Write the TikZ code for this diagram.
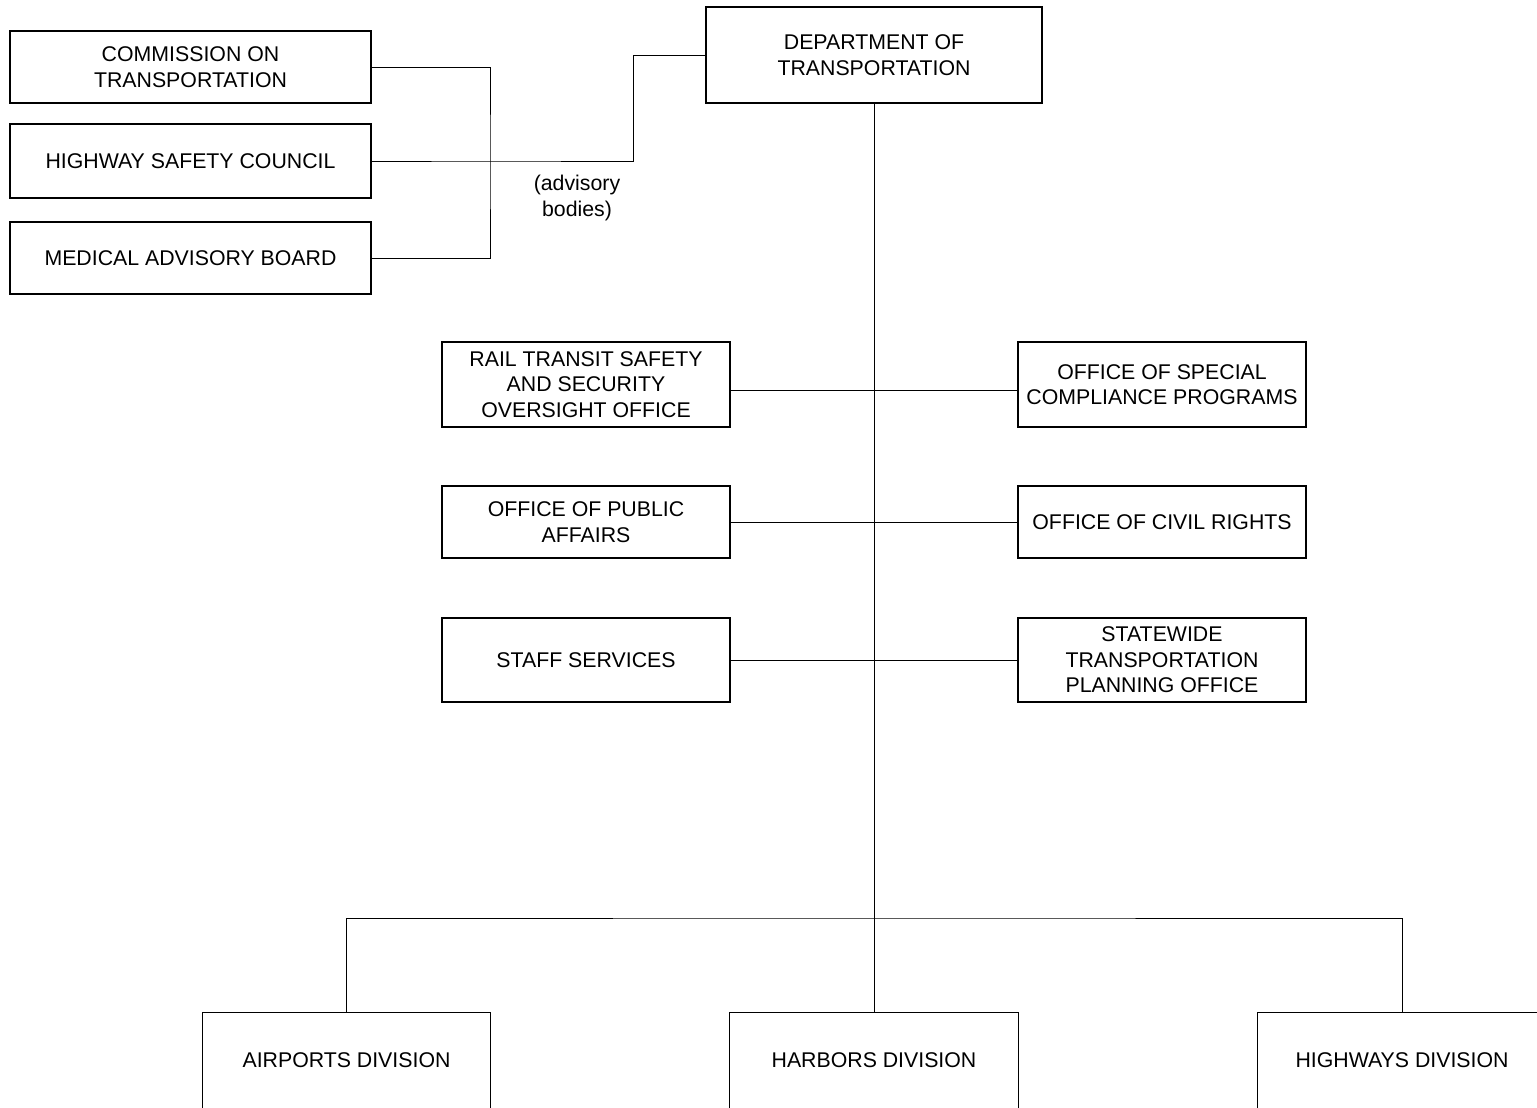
\documentclass[tikz,border=0pt]{standalone}
\usepackage{fontspec}
\setmainfont{Liberation Sans}
\begin{document}
\begin{tikzpicture}[x=1pt,y=-1pt,
  box/.style={draw,line width=1.3pt,rectangle,inner sep=0pt,align=center,
    font=\fontsize{21.3}{25.6}\selectfont},
  divbox/.style={rectangle,inner sep=0pt,align=center,minimum width=288pt,minimum height=94pt,
    font=\fontsize{21.3}{25.6}\selectfont},
  conn/.style={line width=0.9pt},
  lbl/.style={align=center,inner sep=0pt,font=\fontsize{21.3}{25.6}\selectfont}]
\clip (0,0) rectangle (1537,1108);
\fill[white] (0,0) rectangle (1537,1108);
% advisory bodies
\node[box,minimum width=361pt,minimum height=72pt] (comm) at (190.5,67) {COMMISSION ON\\TRANSPORTATION};
\node[box,minimum width=361pt,minimum height=74pt] (hsc) at (190.5,161) {HIGHWAY SAFETY COUNCIL};
\node[box,minimum width=361pt,minimum height=72pt] (med) at (190.5,258) {MEDICAL ADVISORY BOARD};
\node[box,minimum width=336pt,minimum height=96pt] (dept) at (874,55) {DEPARTMENT OF\\TRANSPORTATION};
\node[lbl] (adv) at (577,198) {(advisory\\bodies)};
% staff offices
\node[box,minimum width=288pt,minimum height=85pt] (rail) at (586,384.5) {RAIL TRANSIT SAFETY\\AND SECURITY\\OVERSIGHT OFFICE};
\node[box,minimum width=288pt,minimum height=85pt] (spec) at (1162,384.5) {OFFICE OF SPECIAL\\COMPLIANCE PROGRAMS};
\node[box,minimum width=288pt,minimum height=72pt] (pub) at (586,522) {OFFICE OF PUBLIC\\AFFAIRS};
\node[box,minimum width=288pt,minimum height=72pt] (civ) at (1162,522) {OFFICE OF CIVIL RIGHTS};
\node[box,minimum width=288pt,minimum height=84pt] (staff) at (586,660) {STAFF SERVICES};
\node[box,minimum width=288pt,minimum height=84pt] (plan) at (1162,660) {STATEWIDE\\TRANSPORTATION\\PLANNING OFFICE};
% divisions
\node[divbox] (air) at (346.5,1060) {AIRPORTS DIVISION};
\node[divbox] (harb) at (874,1060) {HARBORS DIVISION};
\node[divbox] (hwy) at (1402,1060) {HIGHWAYS DIVISION};
\foreach \n in {air,harb,hwy}{
  \draw[line width=1.3pt] ([yshift=-20pt]\n.south west) -- (\n.north west) -- (\n.north east) -- ([yshift=-20pt]\n.south east);
}
% connectors
\coordinate (bus) at (490,161);
\coordinate (bend) at (633,161);
\draw[conn] (comm.east) -| (bus) |- (med.east);
\draw[conn] (hsc.east) -- (bus) -- (bend) |- (dept.west);
\draw[conn] (dept.south) -- (harb.north);
\draw[conn] ([yshift=-5.5pt]rail.east) -- ([yshift=-5.5pt]spec.west);
\draw[conn] (pub.east) -- (civ.west);
\draw[conn] (staff.east) -- (plan.west);
\coordinate (bar) at (874,918);
\draw[conn] (air.north) |- (bar) -| (hwy.north);
\end{tikzpicture}
\end{document}
